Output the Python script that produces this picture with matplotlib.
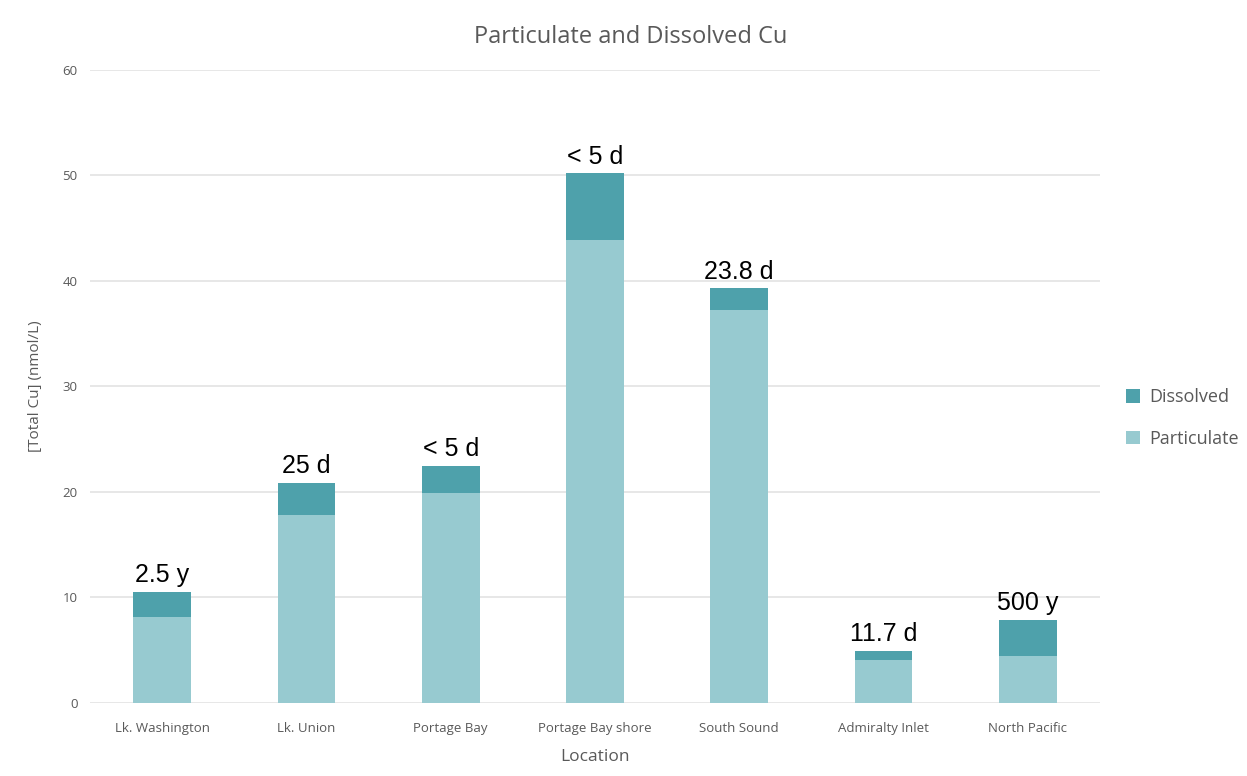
import matplotlib
matplotlib.use("Agg")
import matplotlib.pyplot as plt
import numpy as np

locations = ["Lk. Washington", "Lk. Union", "Portage Bay", "Portage Bay shore",
             "South Sound", "Admiralty Inlet", "North Pacific"]
particulate = [8.15, 17.85, 19.9, 43.9, 37.25, 4.08, 4.42]
total = [10.52, 20.85, 22.5, 50.2, 39.3, 4.93, 7.85]
dissolved = [t - p for t, p in zip(total, particulate)]
residence = ["2.5 y", "25 d", "< 5 d", "< 5 d", "23.8 d", "11.7 d", "500 y"]
yticks = [0, 10, 20, 30, 40, 50, 60]

c_diss = "#4EA1AB"
c_part = "#97CAD0"
gray = "#595959"
font = "Open Sans"

fig = plt.figure(figsize=(12.47, 7.76), dpi=100)
ax = fig.add_axes([0.0722, 0.0941, 0.8098, 0.8157])

x = np.arange(len(locations))
ax.bar(x, particulate, width=0.4, color=c_part, label="Particulate", zorder=3)
ax.bar(x, dissolved, width=0.4, bottom=particulate, color=c_diss, label="Dissolved", zorder=3)

for xi, t, lab in zip(x, total, residence):
    ax.annotate(lab, (xi, t), xytext=(0, 7), textcoords="offset points",
                ha="center", va="baseline", fontsize=18, family="Liberation Sans", color="black")

ax.set_xlim(-0.5, len(locations) - 0.5)
ax.set_ylim(0, 60)
ax.set_yticks(yticks)
ax.set_xticks(x)
ax.set_xticklabels(locations, fontsize=9.5, color=gray, family=font)
ax.set_yticklabels([str(v) for v in yticks], fontsize=9.5, color=gray, family=font)
ax.tick_params(length=0)
ax.tick_params(axis="x", pad=14)
ax.tick_params(axis="y", pad=9)
ax.grid(axis="y", color="#E3E3E3", linewidth=1.2, zorder=0)
for s in ax.spines.values():
    s.set_visible(False)

fig.text(0.506, 0.952, "Particulate and Dissolved Cu", fontsize=17, color=gray, family=font,
         ha="center", va="center")
ax.set_xlabel("Location", fontsize=12.5, color=gray, family=font, labelpad=10)
ax.set_ylabel("[Total Cu] (nmol/L)", fontsize=11, color=gray, family=font, labelpad=14)

handles, labels = ax.get_legend_handles_labels()
leg = ax.legend(handles[::-1], labels[::-1], loc="center left", bbox_to_anchor=(1.01, 0.45),
                frameon=False, handlelength=0.75, handleheight=0.75, handletextpad=0.5,
                labelspacing=1.3, prop={"family": font, "size": 13})
for t in leg.get_texts():
    t.set_color(gray)

fig.savefig("out.png", dpi=100)
